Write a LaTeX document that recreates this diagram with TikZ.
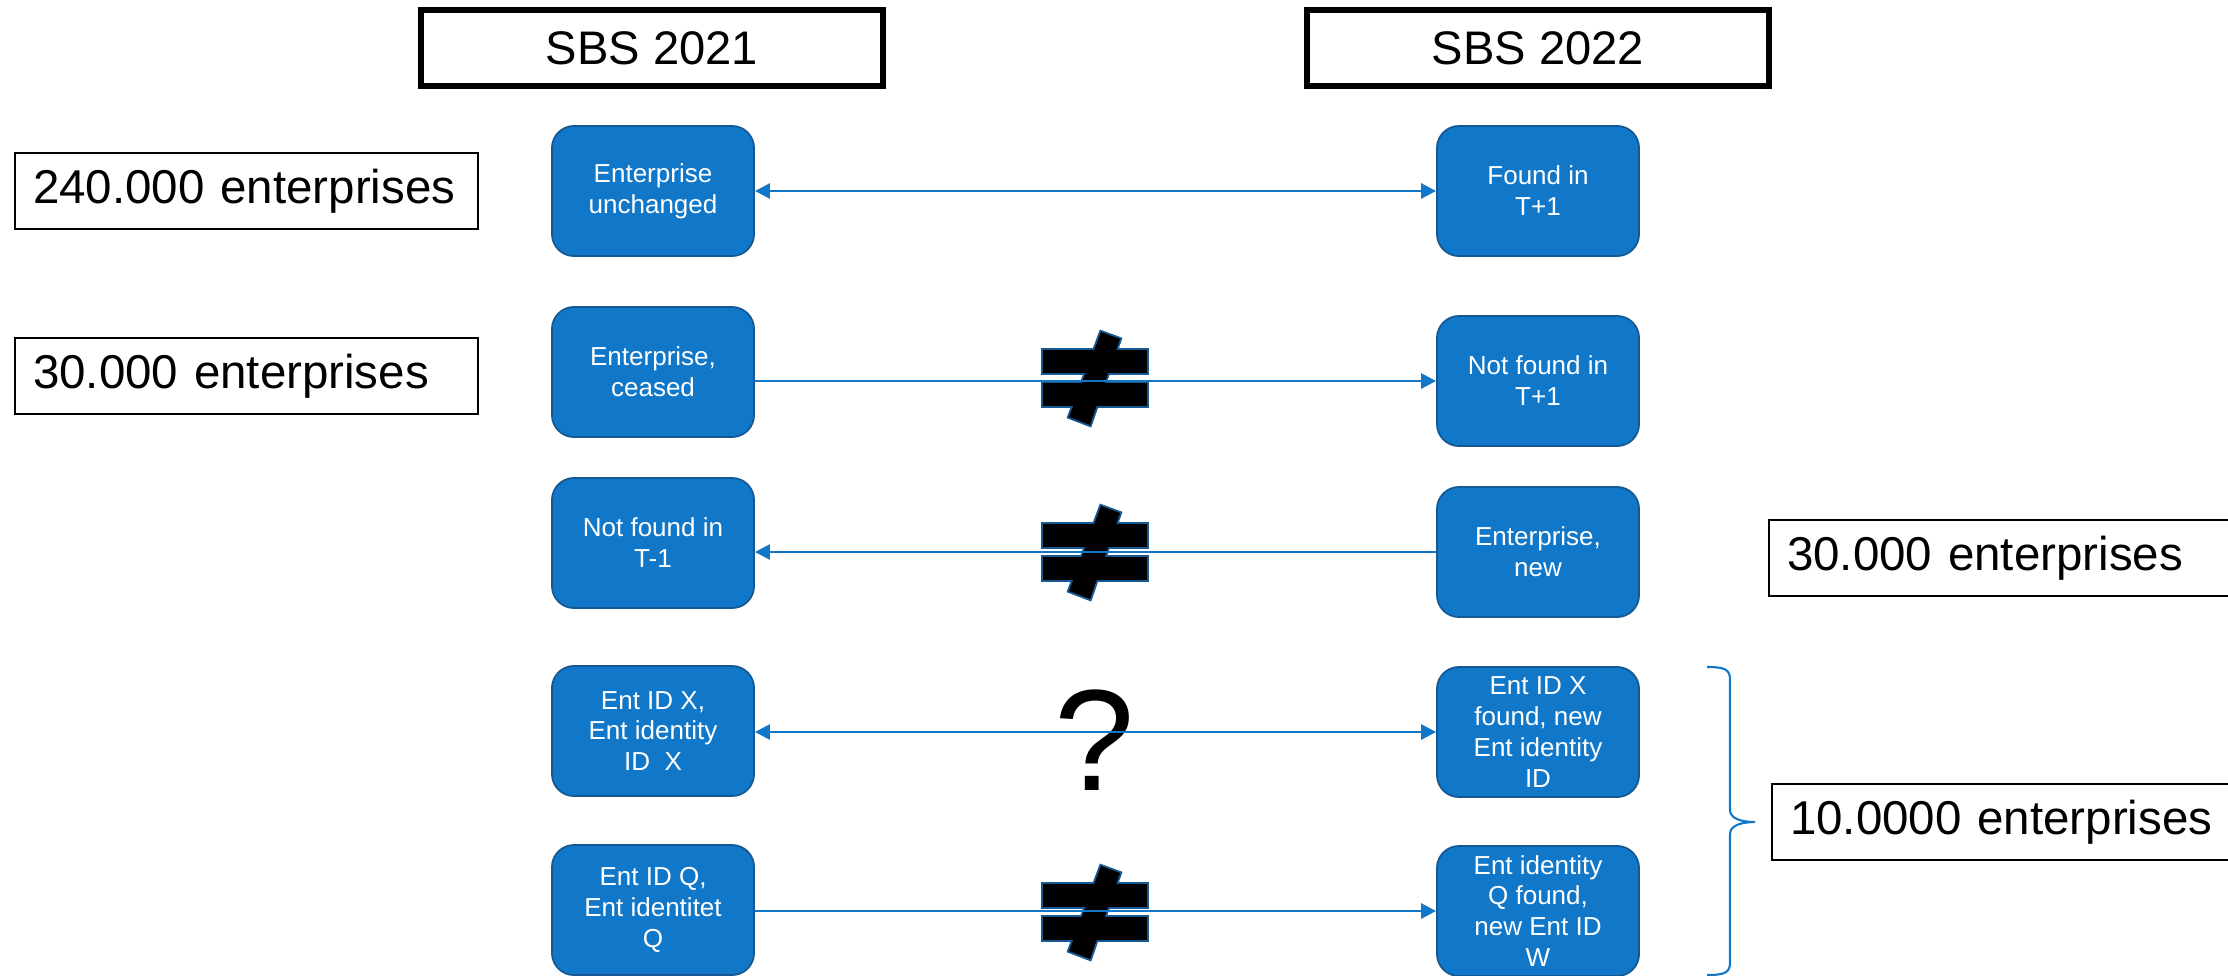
\documentclass[tikz,border=0pt]{standalone}
\usepackage{fontspec}
\setmainfont{Liberation Sans}
\usetikzlibrary{arrows.meta}
\definecolor{entblue}{RGB}{17,119,200}
\definecolor{entedge}{RGB}{22,88,145}
\begin{document}
\begin{tikzpicture}[x=0.01cm,y=-0.01cm,
        ent/.style={draw=entedge,line width=0.5pt,fill=entblue,rounded corners=0.22cm,
            minimum width=2.02cm,minimum height=1.30cm,inner sep=0pt,text=white,align=center,
            font=\fontsize{7.4}{8.8}\selectfont},
        yearbox/.style={draw=black,line width=1.7pt,minimum width=4.61cm,minimum height=0.76cm,
            inner sep=0pt,font=\fontsize{13.4}{16}\selectfont},
        countbox/.style={draw=black,line width=0.6pt,anchor=west,minimum height=0.76cm,
            inner xsep=0.18cm,inner ysep=0pt,text width=4.27cm,align=left,
            font=\fontsize{13.5}{16}\selectfont},
        link/.style={draw=entblue,line width=0.8pt,-{Triangle[length=0.15cm,width=0.15cm]}},
        twolink/.style={link,{Triangle[length=0.15cm,width=0.15cm]}-{Triangle[length=0.15cm,width=0.15cm]}},
        neqedge/.style={draw=entedge,line width=1.1pt},
        neq/.pic={
            \path[neqedge] (-52,-28) rectangle (52,-5);
            \path[neqedge] (-52,5) rectangle (52,28);
            \path[neqedge] (6,-46) -- (25,-39) -- (-5,47) -- (-26,39) -- cycle;
            \fill[black] (-52,-28) rectangle (52,-5);
            \fill[black] (-52,5) rectangle (52,28);
            \fill[black] (6,-46) -- (25,-39) -- (-5,47) -- (-26,39) -- cycle;
        }]
    \clip (0,0) rectangle (2228,975);
    \node[yearbox] (y21) at (652,48) {SBS 2021};
    \node[yearbox] (y22) at (1538,48) {SBS 2022};
    \node[countbox] (c240) at (14,191) {240.000 enterprises};
    \node[countbox] (c30a) at (14,376) {30.000 enterprises};
    \node[countbox,text width=6cm] (c30b) at (1768,558) {30.000 enterprises};
    \node[countbox,text width=6cm] (c10) at (1771,822) {10.0000 enterprises};
    \node[ent] (l1) at (653,191) {Enterprise\\unchanged};
    \node[ent] (l2) at (653,372) {Enterprise,\\ceased};
    \node[ent] (l3) at (653,543) {Not found in\\T-1};
    \node[ent] (l4) at (653,731) {Ent ID X,\\Ent identity\\ID~~X};
    \node[ent] (l5) at (653,910) {Ent ID Q,\\Ent identitet\\Q};
    \node[ent] (r1) at (1538,191) {Found in\\T+1};
    \node[ent] (r2) at (1538,381) {Not found in\\T+1};
    \node[ent] (r3) at (1538,552) {Enterprise,\\new};
    \node[ent] (r4) at (1538,732) {Ent ID X\\found, new\\Ent identity\\ID};
    \node[ent] (r5) at (1538,911) {Ent identity\\Q found,\\new Ent ID\\W};
    \pic at (1095,378) {neq};
    \pic at (1095,552) {neq};
    \pic at (1095,912) {neq};
    \node[inner sep=0pt,font=\fontsize{41}{41}\selectfont] (qmark) at (1095,740) {?};
    \draw[twolink] (l1) -- (r1);
    \draw[link] (l2.east |- r2.west) -- (r2.west);
    \draw[link] (r3.west) -- (l3.east |- r3.west);
    \draw[twolink] (l4.east |- r4.west) -- (r4.west);
    \draw[link] (l5.east |- r5.west) -- (r5.west);
    \draw[entblue,line width=0.6pt] (1707,667) .. controls (1726,667) and (1730,670) .. (1730,680)
        -- (1730,810) .. controls (1730,818) and (1740,822) .. (1755,822)
        .. controls (1740,822) and (1730,826) .. (1730,834)
        -- (1730,962) .. controls (1730,972) and (1726,975) .. (1707,975);
\end{tikzpicture}
\end{document}
